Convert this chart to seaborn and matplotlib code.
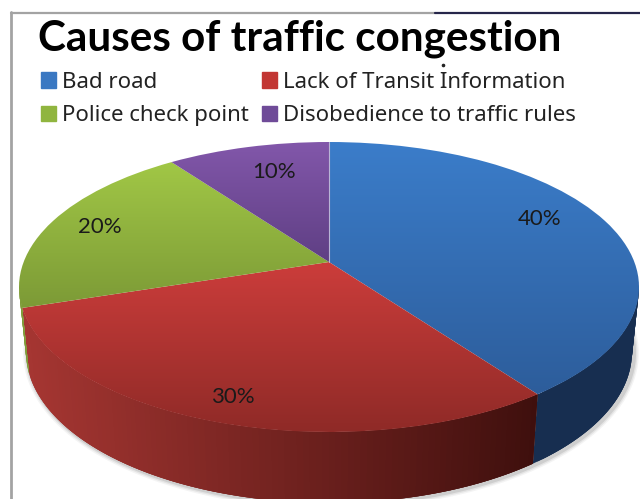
"""Perspective 3D-style pie: causes of traffic congestion."""

import matplotlib
matplotlib.use("Agg")
import matplotlib.pyplot as plt
import numpy as np
import seaborn as sns
from matplotlib.collections import PolyCollection
from matplotlib.patches import Patch
from matplotlib.transforms import Transform

causes = ["Bad road", "Lack of Transit Information", "Police check point", "Disobedience to traffic rules"]
shares = [40, 30, 20, 10]
title = "Causes of traffic congestion"

TOP_COLOURS = [("#3b7dca", "#2d5d9b"), ("#cc3d3b", "#8f2a27"), ("#a1c746", "#7c9a36"), ("#8257aa", "#5f3f84")]
WALL_COLOURS = [("#132845", "#172e50"), ("#a63632", "#3e0f0d"), ("#7f9c38", "#6a8530"), ("#4d3368", "#4d3368")]
LEGEND_COLOURS = ["#3a78c2", "#c23633", "#90b53f", "#6f4b98"]
LABEL_XY = [(540, 219), (233, 397), (100, 227), (274, 172)]

# rim ellipses in pixels: centre x, centre y, rx, ry
TOP = (329, 287, 310, 145)
BOTTOM = (329, 352, 303, 151)
APEX = 25 / 145  # apex of the slices sits above the ellipse centre


def project(u, v, ell):
    den = 1 + APEX * v
    up = u * np.sqrt(1 - APEX**2) / den
    vp = (v + APEX) / den
    return ell[0] + ell[2] * up, ell[1] - ell[3] * vp


class PieProjection(Transform):
    input_dims = 2
    output_dims = 2
    is_affine = False

    def transform_non_affine(self, values):
        values = np.asarray(values)
        x, y = project(values[:, 0], values[:, 1], TOP)
        return np.column_stack([x, y])


def rim_side(theta1, theta2):
    # only the part of the rim that faces the viewer
    th = np.radians(np.arange(theta1, theta2 + 0.5, 1.0))
    return th[np.sin(th) + APEX <= 0.02]


def main():
    sns.set_theme(style="white")
    fig = plt.figure(figsize=(6.4, 4.99), dpi=100)
    ax = fig.add_axes([0, 0, 1, 1])

    wedges, _ = ax.pie(shares, startangle=90, counterclock=False, radius=1)
    proj = PieProjection()

    # soft shadow under the wall
    th = np.radians(np.arange(175, 366, 1.0))
    sx, sy = project(np.cos(th), np.sin(th), BOTTOM)
    for lw, alpha in [(7, 0.05), (5, 0.08), (3, 0.12)]:
        ax.plot(sx + 2, sy + 1, color="#303030", lw=lw, alpha=alpha, zorder=1, solid_capstyle="round")

    for i, w in enumerate(wedges):
        w.set_transform(proj + ax.transData)
        w.set_facecolor("none")
        w.set_edgecolor("none")

        # side wall strips, shaded left to right; each overlaps the next so no seams show
        th = rim_side(w.theta1, w.theta2)
        if len(th) > 1:
            c, s = np.cos(th), np.sin(th)
            xt, yt = project(c, s, TOP)
            xb, yb = project(c, s, BOTTOM)
            polys = []
            for j in range(len(th) - 1):
                k = min(j + 3, len(th) - 1)
                polys.append([(xt[j], yt[j]), (xt[k], yt[k]), (xb[k], yb[k]), (xb[j], yb[j])])
            cmap = sns.blend_palette(WALL_COLOURS[i], as_cmap=True)
            pos = np.clip((xt[:-1] - 20) / 520, 0, 1)
            strips = PolyCollection(polys, array=pos, cmap=cmap, clim=(0, 1), zorder=2, linewidths=0)
            ax.add_collection(strips)

        # top face with a vertical gradient clipped to the slice
        box = proj.transform_path(w.get_path()).get_extents()
        cmap = sns.blend_palette(TOP_COLOURS[i], as_cmap=True)
        im = ax.imshow(
            np.linspace(0, 1, 256)[:, None], cmap=cmap, vmin=0, vmax=1, aspect="auto",
            extent=(box.x0, box.x1, box.y1, box.y0), zorder=3,
        )
        im.set_clip_path(w)

    # thin highlight where the last slice meets the first
    hx, hy = project(np.array([0.0, 0.0]), np.array([0.0, 1.0]), TOP)
    ax.plot(hx, hy, color="#b9b4d6", lw=0.8, zorder=4)

    for (x, y), v in zip(LABEL_XY, shares):
        ax.text(x, y, f"{v}%", ha="center", va="center", fontsize=16, family="Lato", color="#1a1a1a", zorder=5)

    ax.text(38, 50, title, fontsize=30.4, fontweight="bold", family="Lato", color="black", va="baseline")

    handles = [Patch(color=LEGEND_COLOURS[i]) for i in (0, 2, 1, 3)]
    labels = [causes[i] for i in (0, 2, 1, 3)]
    ax.legend(
        handles, labels, ncol=2, loc="upper left", bbox_to_anchor=(0.064, 0.856), frameon=False,
        prop={"family": "Noto Sans", "size": 16}, handlelength=0.68, handleheight=0.68, handletextpad=0.27,
        columnspacing=0.58, labelspacing=0.56, borderaxespad=0, borderpad=0, labelcolor="#222222",
    )

    # picture frame left over from the slide
    ax.plot([11, 11], [12, 499], color="#a3a3a3", lw=2, zorder=6)
    ax.plot([11, 435], [13, 13], color="#a3a3a3", lw=1.6, zorder=6)
    ax.plot([435, 640], [12.5, 12.5], color="#26264a", lw=1.6, zorder=6)
    ax.plot([443], [65], marker="o", ms=1.6, color="#222222", zorder=6)

    ax.set_xlim(0, 640)
    ax.set_ylim(499, 0)
    ax.set_aspect("auto")
    ax.axis("off")

    fig.savefig("out.png", dpi=100)
    plt.close(fig)


if __name__ == "__main__":
    main()
